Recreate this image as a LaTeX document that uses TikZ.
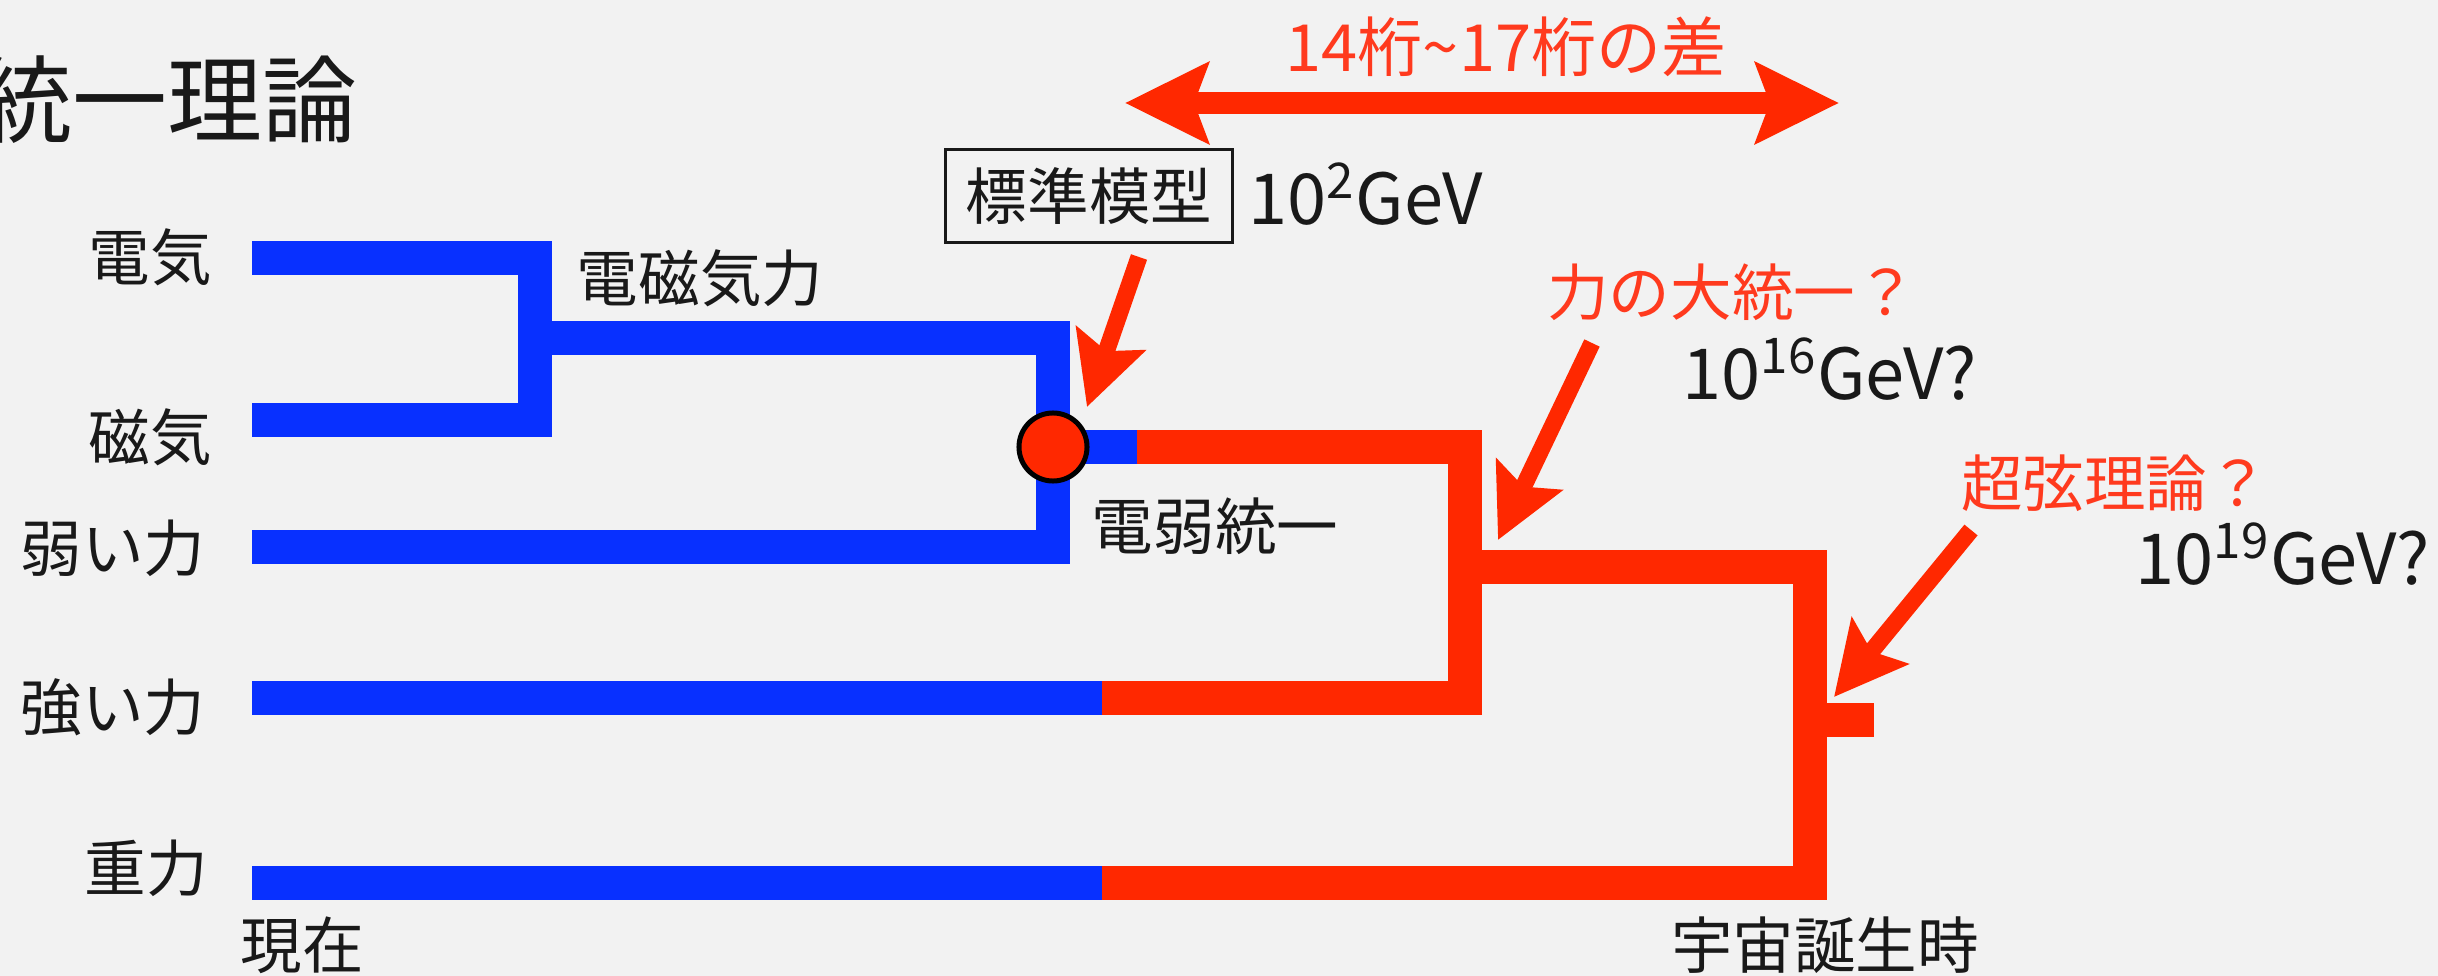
\documentclass[tikz,border=0pt]{standalone}
\usepackage{fontspec}
\setmainfont{Noto Sans CJK JP}
\usepackage{xcolor}
\usepackage{tikz}
\usetikzlibrary{arrows.meta,positioning,calc}
\definecolor{paper}{RGB}{242,242,242}
\definecolor{chalkblue}{RGB}{8,48,255}
\definecolor{chalkred}{RGB}{255,40,0}
\definecolor{textred}{RGB}{255,58,30}
\definecolor{ink}{RGB}{25,25,25}

\begin{document}
\begin{tikzpicture}[
    x=0.01cm, y=-0.01cm,
    lbl/.style={font=\fontsize{17.5}{21}\selectfont, text=ink, inner sep=0pt},
    redlbl/.style={lbl, text=textred},
    gev/.style={font=\fontsize{20}{24}\selectfont, text=ink, inner sep=0pt},
    force/.style={line width=0.34cm, line cap=butt, line join=miter},
    blueline/.style={force, draw=chalkblue},
    redline/.style={force, draw=chalkred},
    pointer/.style={-{Stealth[length=0.72cm, width=0.72cm, inset=0.13cm]}, line width=0.17cm, draw=chalkred},
    span/.style={{Stealth[length=0.83cm, width=0.8cm, inset=0.14cm]}-{Stealth[length=0.83cm, width=0.8cm, inset=0.14cm]}, line width=0.21cm, draw=chalkred}
]

% Page
\fill[paper] (0,0) rectangle (2438,976);
\useasboundingbox (0,0) rectangle (2438,976);

% Title
\node[font=\fontsize{27}{32}\selectfont, text=ink, inner sep=0pt, anchor=east] (title) at (358,100) {統一理論};

% Branch points
\coordinate (emjoin) at (535,338);
\coordinate (ewjoin) at (1053,447);
\coordinate (blend) at (1137,447);
\coordinate (gutjoin) at (1465,567);
\coordinate (toejoin) at (1810,720);

% Present-day forces (blue)
\draw[blueline] (252,258) -- (535,258) -- (535,420) -- (252,420);
\draw[blueline] (emjoin) -- (1053,338) -- (1053,547) -- (252,547);
\draw[blueline] (ewjoin) -- (blend);
\draw[blueline] (252,698) -- (1102,698);
\draw[blueline] (252,883) -- (1102,883);

% Unification (red)
\draw[redline] (blend) -- (1465,447) -- (1465,698) -- (1102,698);
\draw[redline] (gutjoin) -- (1810,567) -- (1810,883) -- (1102,883);
\draw[redline] (toejoin) -- (1874,720);

% Electroweak point
\node[circle, fill=chalkred, draw=black, line width=0.05cm, minimum size=0.68cm, inner sep=0pt] (ewdot) at (ewjoin) {};

% Force labels
\node[lbl] (elec) at (150,257) {電気};
\node[lbl] (magn) at (150,437) {磁気};
\node[lbl] (weak) at (113,548) {弱い力};
\node[lbl] (strong) at (113,707) {強い力};
\node[lbl] (grav) at (146,868) {重力};
\node[lbl] (em) at (700,278) {電磁気力};
\node[lbl] (ew) at (1215,526) {電弱統一};

% Time labels
\node[lbl] (now) at (302,945) {現在};
\node[lbl] (birth) at (1825,945) {宇宙誕生時};

% Energy scales
\node[lbl, draw=ink, line width=0.03cm, minimum width=2.87cm, minimum height=0.92cm] (sm) at (1089,196) {標準模型};
\node[gev, anchor=west] (smgev) at (1248,194) {10\textsuperscript{2}GeV};
\node[redlbl] (gut) at (1732,292) {力の大統一？};
\node[gev] (gutgev) at (1830,369) {10\textsuperscript{16}GeV?};
\node[redlbl] (toe) at (2115,483) {超弦理論？};
\node[gev] (toegev) at (2283,554) {10\textsuperscript{19}GeV?};

% Gap between scales
\node[redlbl, font=\fontsize{18.5}{22}\selectfont] (gap) at (1506,47) {14桁\textasciitilde17桁の差};
\coordinate (gapl) at (1125,103);
\coordinate (gapr) at (1839,103);
\draw[span] (gapl) -- (gapr);

% Pointers
\coordinate (p1s) at (1139,257);
\coordinate (p1e) at (1087,407);
\draw[pointer] (p1s) -- (p1e);
\coordinate (p2s) at (1592,343);
\coordinate (p2e) at (1498,540);
\draw[pointer] (p2s) -- (p2e);
\coordinate (p3s) at (1971,530);
\coordinate (p3e) at (1834,697);
\draw[pointer] (p3s) -- (p3e);

\end{tikzpicture}
\end{document}
